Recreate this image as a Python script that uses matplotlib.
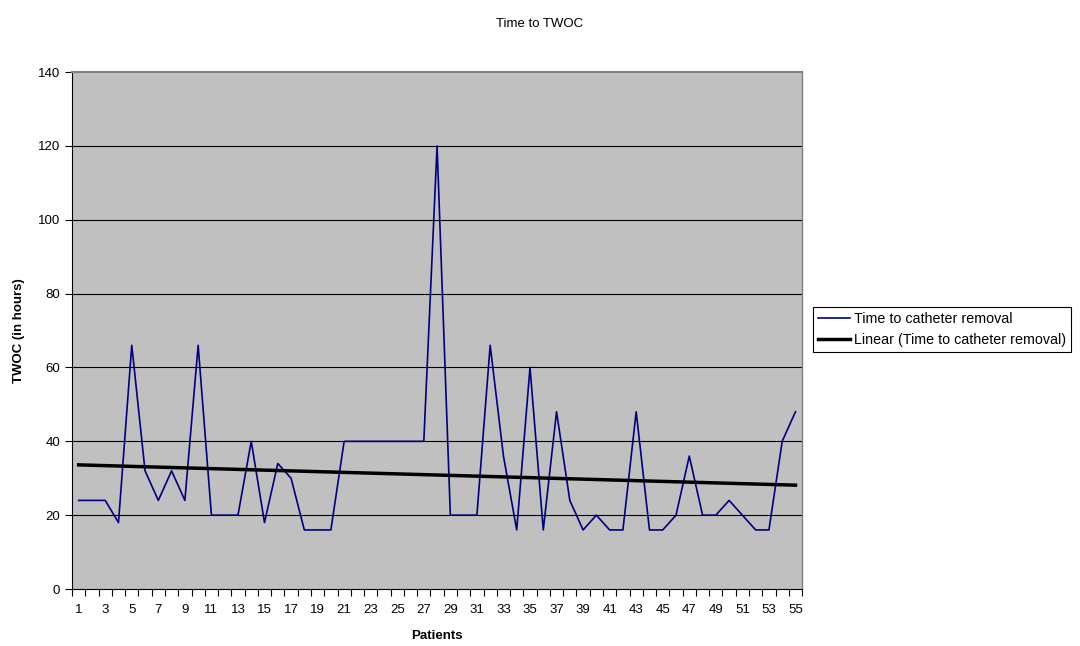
import matplotlib
matplotlib.use("Agg")
import matplotlib.pyplot as plt
import numpy as np

plt.rcParams['font.family'] = ['Liberation Sans', 'DejaVu Sans']

# Patienten und Zeit bis zur Katheterentfernung (Stunden)
patients = np.arange(1, 56)
twoc_hours = [24, 24, 24, 18, 66, 32, 24, 32, 24, 66,
              20, 20, 20, 40, 18, 34, 30, 16, 16, 16,
              40, 40, 40, 40, 40, 40, 40, 120, 20, 20,
              20, 66, 36, 16, 60, 16, 48, 24, 16, 20,
              16, 16, 48, 16, 16, 20, 36, 20, 20, 24,
              20, 16, 16, 40, 48]
y_ticks = [0, 20, 40, 60, 80, 100, 120, 140]

# lineare Trendlinie wie in Excel
c_trend = np.polyfit(patients, twoc_hours, 1)
f_trend = np.poly1d(c_trend)

fig = plt.figure(figsize=(10.8, 6.46), dpi=100)
ax = fig.add_axes([0.0667, 0.0882, 0.676, 0.8003])
ax.set_facecolor('#C0C0C0')

for yv in y_ticks[1:-1]:
    ax.axhline(yv, color='black', lw=0.8, zorder=1)

ax.plot(patients, twoc_hours, color='#000080', lw=1.2, zorder=3,
        label='Time to catheter removal')
ax.plot(patients, f_trend(patients), color='black', lw=2.5, zorder=4,
        label='Linear (Time to catheter removal)')

ax.set_xlim(0.5, 55.5)
ax.set_ylim(0, 140)
ax.set_yticks(y_ticks)
ax.set_xticks(patients[::2])
ax.set_xticks(np.arange(0.5, 56, 1), minor=True)
ax.tick_params(axis='x', which='major', length=0, pad=11, labelsize=9.5)
ax.tick_params(axis='x', which='minor', length=5, direction='out', width=0.8)
ax.tick_params(axis='y', length=5, direction='out', width=0.8, labelsize=9.5)

ax.spines['top'].set_color('#808080')
ax.spines['right'].set_color('#808080')
ax.spines['top'].set_linewidth(1.5)
ax.spines['right'].set_linewidth(1.0)

ax.set_xlabel('Patients', fontsize=9.5, fontweight='bold', labelpad=10)
ax.set_ylabel('TWOC (in hours)', fontsize=9.5, fontweight='bold', labelpad=9)
fig.text(0.5, 0.963, 'Time to TWOC', ha='center', va='center', fontsize=9.5)

leg = ax.legend(loc='upper left', bbox_to_anchor=(1.015, 0.545), fontsize=10.3,
                frameon=True, fancybox=False, framealpha=1, edgecolor='black',
                borderaxespad=0, handlelength=2.2, handletextpad=0.3,
                borderpad=0.35, labelspacing=0.45)
leg.get_frame().set_linewidth(0.8)

fig.savefig('out.png', dpi=100)
